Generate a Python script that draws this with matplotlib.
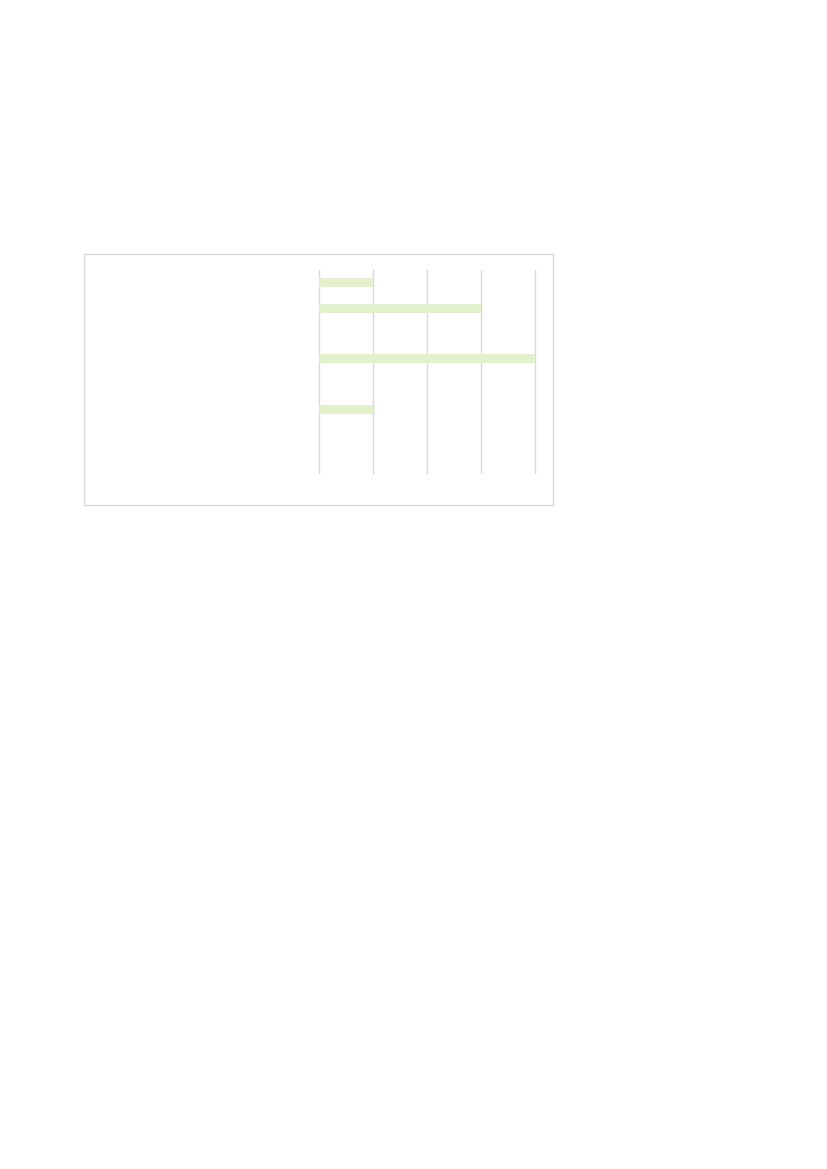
import matplotlib
matplotlib.use("Agg")
import matplotlib.pyplot as plt
from matplotlib.patches import Rectangle

# data (category labels are not visible in the reference)
categories = ["A", "B", "C", "D", "E", "F", "G", "H"]
values = [1, 3, 0, 4, 0, 1, 0, 0]
x_ticks = [0, 1, 2, 3, 4]

fig = plt.figure(figsize=(8.27, 11.69), dpi=100)

# light outer chart frame
fig.patches.append(Rectangle((84 / 827, 1 - 505 / 1169), (553 - 84) / 827, (505 - 254) / 1169,
                             transform=fig.transFigure, fill=False,
                             edgecolor="#d9d9d9", linewidth=1))

ax = fig.add_axes([319 / 827, 1 - 473 / 1169, (535 - 319) / 827, (473 - 270) / 1169])
pos = list(range(len(categories)))
ax.barh(pos, values, height=0.35, color="#e2f0cb", zorder=2)

ax.set_xlim(0, 4)
ax.set_ylim(len(categories) - 0.5, -0.5)
ax.set_xticks(x_ticks)
ax.set_yticks(pos)
ax.tick_params(length=0, labelbottom=False, labelleft=False)
for s in ax.spines.values():
    s.set_visible(False)

# vertical gridlines, unclipped so the edge lines are drawn at full width
for t in x_ticks:
    ax.axvline(t, color="#d9d9d9", linewidth=1, zorder=1, clip_on=False)

fig.savefig("out.png", dpi=100)
